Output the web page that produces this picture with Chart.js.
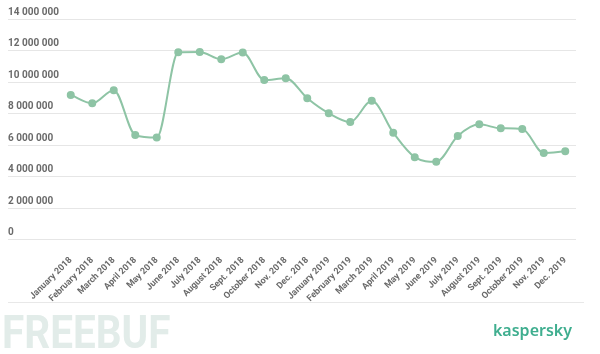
<!DOCTYPE html>
<html>
<head>
<meta charset="utf-8">
<script src="https://cdn.jsdelivr.net/npm/chart.js@4/dist/chart.umd.min.js"></script>
<style>
  html, body { margin: 0; padding: 0; background: #ffffff; }
  #wrap { position: relative; width: 600px; height: 354px; }
</style>
</head>
<body>
<div id="wrap"><canvas id="c" width="600" height="354"></canvas></div>
<script>
const categories = [
  "January 2018", "February 2018", "March 2018", "April 2018", "May 2018", "June 2018",
  "July 2018", "August 2018", "Sept. 2018", "October 2018", "Nov. 2018", "Dec. 2018",
  "January 2019", "February 2019", "March 2019", "April 2019", "May 2019", "June 2019",
  "July 2019", "August 2019", "Sept. 2019", "October 2019", "Nov. 2019", "Dec. 2019"
];
const attacks = [
  9190000, 8660000, 9490000, 6640000, 6480000, 11890000,
  11910000, 11450000, 11870000, 10130000, 10240000, 8980000,
  8030000, 7470000, 8810000, 6790000, 5240000, 4950000,
  6580000, 7320000, 7070000, 7030000, 5500000, 5620000
];
const yTicks = [0, 2000000, 4000000, 6000000, 8000000, 10000000, 12000000, 14000000];

function fmt(v) {
  return String(Math.round(v)).replace(/\B(?=(\d{3})+(?!\d))/g, " ");
}

const decorations = {
  id: 'decorations',
  beforeDraw(chart) {
    const ctx = chart.ctx;
    ctx.save();
    ctx.fillStyle = '#e2ece9';
    ctx.font = 'bold 46px "Liberation Sans Narrow", Roboto';
    ctx.textBaseline = 'alphabetic';
    ctx.textAlign = 'left';
    ctx.translate(2, 348);
    ctx.scale(0.88, 1);
    ctx.fillText('FREEBUF', 0, 0);
    ctx.restore();
  },
  afterDraw(chart) {
    const ctx = chart.ctx;
    ctx.save();
    ctx.strokeStyle = '#e8e8e8';
    ctx.lineWidth = 1;
    ctx.beginPath();
    ctx.moveTo(8, 302.5);
    ctx.lineTo(584, 302.5);
    ctx.stroke();
    ctx.fillStyle = '#3fae8f';
    ctx.font = '600 16px "Noto Sans", Lato';
    ctx.textAlign = 'right';
    ctx.textBaseline = 'alphabetic';
    ctx.fillText('kaspersky', 572, 336);
    ctx.restore();
  }
};

new Chart(document.getElementById('c'), {
  type: 'line',
  data: {
    labels: categories,
    datasets: [{
      data: attacks,
      borderColor: '#8ec4a5',
      backgroundColor: '#8ec4a5',
      pointBackgroundColor: '#8ec4a5',
      pointBorderColor: '#8ec4a5',
      borderWidth: 2,
      pointRadius: 3,
      cubicInterpolationMode: 'monotone',
      fill: false
    }]
  },
  options: {
    responsive: false,
    animation: false,
    events: [],
    layout: { padding: { left: 8, right: 24, top: 19, bottom: 43 } },
    plugins: { legend: { display: false }, tooltip: { enabled: false } },
    scales: {
      x: {
        offset: true,
        grid: { display: false },
        border: { display: false },
        ticks: {
          minRotation: 45, maxRotation: 45, autoSkip: false,
          padding: 7,
          color: '#6a6a6a',
          font: { family: 'Roboto', size: 9, weight: 'bold' }
        }
      },
      y: {
        min: 0, max: 14000000,
        afterFit(scale) { scale.width = 52; },
        afterBuildTicks(scale) { scale.ticks = yTicks.map(v => ({ value: v })); },
        border: { display: false },
        grid: { color: '#e6e6e6', lineWidth: 1, drawTicks: true, tickLength: 52, tickColor: '#e6e6e6' },
        ticks: {
          crossAlign: 'far',
          labelOffset: -7,
          padding: 0,
          color: '#6a6a6a',
          font: { family: 'Roboto', size: 10, weight: 'bold' },
          callback: (v) => fmt(v)
        }
      }
    }
  },
  plugins: [decorations]
});
</script>
</body>
</html>
